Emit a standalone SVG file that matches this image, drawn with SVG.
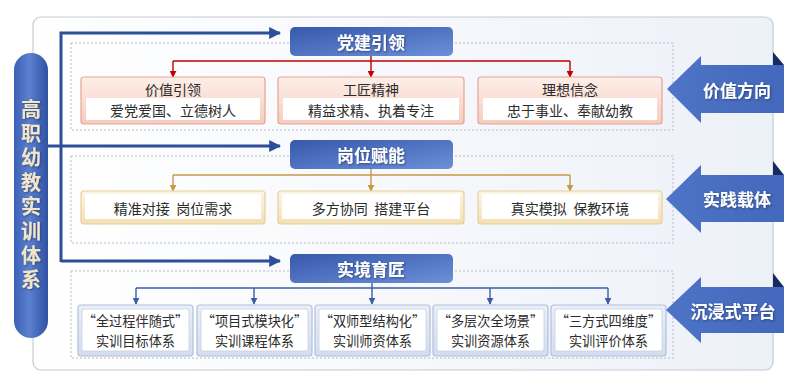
<svg xmlns="http://www.w3.org/2000/svg" width="798" height="385" viewBox="0 0 798 385">
<defs>
<linearGradient id="gFrame" x1="0" y1="0" x2="1" y2="0"><stop offset="0" stop-color="#ffffff"/><stop offset="1" stop-color="#edf1f8"/></linearGradient>
<linearGradient id="gPill" x1="0" y1="0" x2="1" y2="0"><stop offset="0" stop-color="#3c61b6"/><stop offset="0.45" stop-color="#5b80cf"/><stop offset="1" stop-color="#2f52a2"/></linearGradient>
<linearGradient id="gHead" x1="0" y1="0" x2="1" y2="1"><stop offset="0" stop-color="#3858ac"/><stop offset="1" stop-color="#6b90d8"/></linearGradient>
<linearGradient id="gArrow" x1="0" y1="0" x2="1" y2="0"><stop offset="0" stop-color="#4d74c6"/><stop offset="1" stop-color="#4468bb"/></linearGradient>
<linearGradient id="gRed" x1="0" y1="0" x2="0" y2="1"><stop offset="0" stop-color="#fdefe9"/><stop offset="1" stop-color="#f6cbbd"/></linearGradient>
<linearGradient id="gGold" x1="0" y1="0" x2="0" y2="1"><stop offset="0" stop-color="#fdf6e6"/><stop offset="1" stop-color="#f3dfb4"/></linearGradient>
<linearGradient id="gBlue" x1="0" y1="0" x2="0" y2="1"><stop offset="0" stop-color="#eaeff8"/><stop offset="1" stop-color="#d3ddef"/></linearGradient>
<filter id="sh" x="-20%" y="-10%" width="140%" height="130%"><feDropShadow dx="1" dy="1" stdDeviation="0.8" flood-color="#1a2a55" flood-opacity="0.6"/></filter>
<marker id="mNavy" viewBox="0 0 10 10" refX="9" refY="5" markerWidth="4" markerHeight="4" orient="auto" markerUnits="strokeWidth"><path d="M0,0 L10,5 L0,10 Z" fill="#2d4f9a"/></marker>
<marker id="mRed" viewBox="0 0 10 10" refX="9" refY="5" markerWidth="5" markerHeight="5" orient="auto" markerUnits="strokeWidth"><path d="M0,0 L10,5 L0,10 Z" fill="#c00000"/></marker>
<marker id="mGold" viewBox="0 0 10 10" refX="9" refY="5" markerWidth="5" markerHeight="5" orient="auto" markerUnits="strokeWidth"><path d="M0,0 L10,5 L0,10 Z" fill="#c49a45"/></marker>
<marker id="mBlue" viewBox="0 0 10 10" refX="9" refY="5" markerWidth="5" markerHeight="5" orient="auto" markerUnits="strokeWidth"><path d="M0,0 L10,5 L0,10 Z" fill="#3a5ea8"/></marker>
</defs>
<style>
text{font-family:"Noto Sans CJK SC","Noto Sans",sans-serif;text-anchor:middle;dominant-baseline:central;white-space:pre}
.dash{fill:none;stroke:#b8bcc6;stroke-width:1;stroke-dasharray:2,2}
.head{fill:url(#gHead)}
.headT{fill:#ffffff;font-size:17px;font-weight:bold}
.arrT{fill:#ffffff;font-size:17px;font-weight:bold}
.pillT{fill:#f1e6c9;font-size:20px;font-weight:bold;writing-mode:vertical-rl;text-anchor:start;letter-spacing:4.4px}
.red{fill:url(#gRed);stroke:#e5a594;stroke-width:1.2}
.gold{fill:url(#gGold);stroke:#e6cf9c;stroke-width:1.2}
.blue{fill:url(#gBlue);stroke:#b2c0dc;stroke-width:1.2}
.inner{fill:#ffffff}
.innerB{fill:#ffffff;stroke:#c6d0e4;stroke-width:0.8}
.t14{fill:#2b2b2b;font-size:14px}
.t13{fill:#2b2b2b;font-size:13.2px}
.bArrow{fill:url(#gArrow)}
.fold{fill:#172b63}
.navy{fill:none;stroke:#2d4f9a;stroke-width:3}
.cRed{fill:none;stroke:#c00000;stroke-width:1.4}
.cGold{fill:none;stroke:#c49a45;stroke-width:1.4}
.cBlue{fill:none;stroke:#3a5ea8;stroke-width:1.4}
</style>

<rect id="frame" x="33" y="17" width="740" height="353" rx="8" fill="url(#gFrame)" stroke="#c5cad3" stroke-width="1.2"/>

<g id="sections">
<rect class="dash" x="71" y="43" width="602" height="87"/>
<rect class="dash" x="71" y="156" width="602" height="87"/>
<rect class="dash" x="71" y="271" width="602" height="87"/>
</g>

<g id="connectors">
<path class="navy" d="M61,262 V33 H280" marker-end="url(#mNavy)"/>
<path class="navy" d="M61,261 H280" marker-end="url(#mNavy)"/>
<line class="navy" x1="48" y1="146" x2="280" y2="146" marker-end="url(#mNavy)"/>
<line class="cRed" x1="371" y1="56" x2="371" y2="77" marker-end="url(#mRed)"/>
<line class="cRed" x1="173" y1="61" x2="570" y2="61"/>
<line class="cRed" x1="173" y1="61" x2="173" y2="77" marker-end="url(#mRed)"/>
<line class="cRed" x1="570" y1="61" x2="570" y2="77" marker-end="url(#mRed)"/>
<line class="cGold" x1="371" y1="169" x2="371" y2="191" marker-end="url(#mGold)"/>
<line class="cGold" x1="173" y1="175" x2="570" y2="175"/>
<line class="cGold" x1="173" y1="175" x2="173" y2="191" marker-end="url(#mGold)"/>
<line class="cGold" x1="570" y1="175" x2="570" y2="191" marker-end="url(#mGold)"/>
<line class="cBlue" x1="136" y1="288" x2="608" y2="288"/>
<line class="cBlue" x1="136" y1="288" x2="136" y2="304" marker-end="url(#mBlue)"/>
<line class="cBlue" x1="254" y1="288" x2="254" y2="304" marker-end="url(#mBlue)"/>
<line class="cBlue" x1="372" y1="283" x2="372" y2="304" marker-end="url(#mBlue)"/>
<line class="cBlue" x1="490" y1="288" x2="490" y2="304" marker-end="url(#mBlue)"/>
<line class="cBlue" x1="608" y1="288" x2="608" y2="304" marker-end="url(#mBlue)"/>
</g>

<g id="pill">
<rect x="14" y="53" width="34" height="285" rx="17" fill="url(#gPill)"/>
<text class="pillT" x="31" y="99" filter="url(#sh)">高职幼教实训体系</text>
</g>

<g id="h1"><rect class="head" x="290" y="27" width="163" height="29" rx="5"/><text class="headT" x="371" y="41.5" filter="url(#sh)">党建引领</text></g>
<g id="h2"><rect class="head" x="290" y="140" width="163" height="29" rx="5"/><text class="headT" x="371" y="154.5" filter="url(#sh)">岗位赋能</text></g>
<g id="h3"><rect class="head" x="290" y="254" width="163" height="29" rx="5"/><text class="headT" x="371" y="268.5" filter="url(#sh)">实境育匠</text></g>

<g id="r1"><rect class="red" x="81" y="77" width="184" height="47" rx="3"/><rect class="inner" x="86" y="98" width="174" height="22"/><text class="t14" x="173" y="89">价值引领</text><text class="t14" x="173" y="109.5">爱党爱国、立德树人</text></g>
<g id="r2"><rect class="red" x="278" y="77" width="186" height="47" rx="3"/><rect class="inner" x="283" y="98" width="176" height="22"/><text class="t14" x="371" y="89">工匠精神</text><text class="t14" x="371" y="109.5">精益求精、执着专注</text></g>
<g id="r3"><rect class="red" x="478" y="77" width="184" height="47" rx="3"/><rect class="inner" x="483" y="98" width="174" height="22"/><text class="t14" x="570" y="89">理想信念</text><text class="t14" x="570" y="109.5">忠于事业、奉献幼教</text></g>

<g id="g1"><rect class="gold" x="81" y="191" width="184" height="33" rx="3"/><rect class="inner" x="85" y="194" width="176" height="25"/><text class="t14" x="173" y="208">精准对接  岗位需求</text></g>
<g id="g2"><rect class="gold" x="278" y="191" width="186" height="33" rx="3"/><rect class="inner" x="282" y="194" width="178" height="25"/><text class="t14" x="371" y="208">多方协同  搭建平台</text></g>
<g id="g3"><rect class="gold" x="478" y="191" width="184" height="33" rx="3"/><rect class="inner" x="482" y="194" width="176" height="25"/><text class="t14" x="570" y="208">真实模拟  保教环境</text></g>

<g id="b1"><rect class="blue" x="78" y="305" width="115" height="51" rx="3"/><rect class="innerB" x="82" y="309" width="107" height="42" rx="2"/><text class="t13" x="135.5" y="320.5">“全过程伴随式”</text><text class="t13" x="135.5" y="340">实训目标体系</text></g>
<g id="b2"><rect class="blue" x="197" y="305" width="115" height="51" rx="3"/><rect class="innerB" x="201" y="309" width="107" height="42" rx="2"/><text class="t13" x="254.5" y="320.5">“项目式模块化”</text><text class="t13" x="254.5" y="340">实训课程体系</text></g>
<g id="b3"><rect class="blue" x="315" y="305" width="115" height="51" rx="3"/><rect class="innerB" x="319" y="309" width="107" height="42" rx="2"/><text class="t13" x="372.5" y="320.5">“双师型结构化”</text><text class="t13" x="372.5" y="340">实训师资体系</text></g>
<g id="b4"><rect class="blue" x="433" y="305" width="115" height="51" rx="3"/><rect class="innerB" x="437" y="309" width="107" height="42" rx="2"/><text class="t13" x="490.5" y="320.5">“多层次全场景”</text><text class="t13" x="490.5" y="340">实训资源体系</text></g>
<g id="b5"><rect class="blue" x="551" y="305" width="115" height="51" rx="3"/><rect class="innerB" x="555" y="309" width="107" height="42" rx="2"/><text class="t13" x="608.5" y="320.5">“三方式四维度”</text><text class="t13" x="608.5" y="340">实训评价体系</text></g>

<g id="a1"><polygon class="fold" points="773,52 773,65 784,65"/><polygon class="bArrow" points="667,89 701,56 701,65 784,65 784,113 701,113 701,123"/><text class="arrT" x="737" y="89" filter="url(#sh)">价值方向</text></g>
<g id="a2"><polygon class="fold" points="773,161 773,175 784,175"/><polygon class="bArrow" points="666,199 701,165 701,175 784,175 784,222 701,222 701,233"/><text class="arrT" x="737" y="198" filter="url(#sh)">实践载体</text></g>
<g id="a3"><polygon class="fold" points="773,273 773,287 784,287"/><polygon class="bArrow" points="666,310 701,277 701,287 784,287 784,333 701,333 701,343"/><text class="arrT" x="733" y="310" filter="url(#sh)">沉浸式平台</text></g>
</svg>
